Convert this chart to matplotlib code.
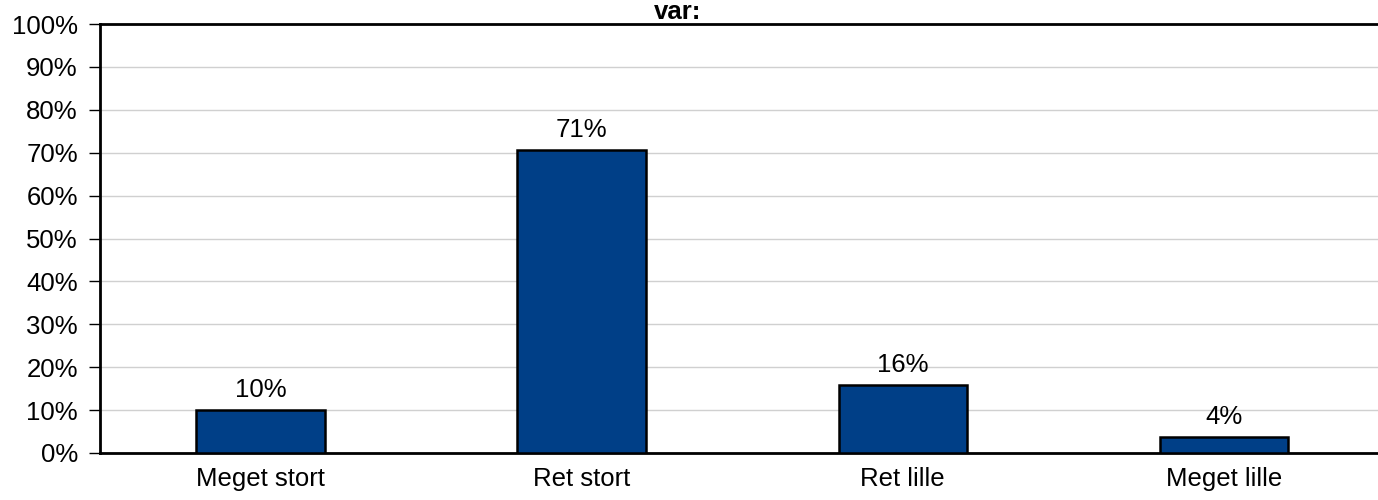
import matplotlib
matplotlib.use("Agg")
import matplotlib.pyplot as plt
from matplotlib.ticker import FuncFormatter

# Data
categories = ["Meget stort", "Ret stort", "Ret lille", "Meget lille"]
values = [10.0, 70.6, 15.8, 3.7]  # [%]
yticks = list(range(0, 101, 10))

bar_color = "#003F87"
fs = 18.5

plt.rcParams["font.family"] = ["Liberation Sans", "DejaVu Sans"]
plt.rcParams["font.size"] = fs

fig = plt.figure(figsize=(13.78, 5.0), dpi=100)
ax = fig.add_axes([0.0726, 0.094, 0.932, 0.858])

x = range(len(categories))
bars = ax.bar(x, values, width=0.4, color=bar_color, edgecolor="black", linewidth=1.8, zorder=3)

for bar, v in zip(bars, values):
    ax.text(bar.get_x() + bar.get_width() / 2, v + 2.0, f"{v:.0f}%",
            ha="center", va="bottom", fontsize=fs)

ax.set_xlim(-0.5, len(categories) - 0.5)
ax.set_ylim(0, 100)
ax.set_yticks(yticks)
ax.yaxis.set_major_formatter(FuncFormatter(lambda v, _: f"{v:.0f}%"))
ax.set_xticks(list(x))
ax.set_xticklabels(categories)
ax.tick_params(axis="x", length=0, pad=10, labelsize=fs)
ax.tick_params(axis="y", length=8, width=1, labelsize=fs, pad=8)

ax.grid(axis="y", color="#d0d0d0", linewidth=1, zorder=0)
for side in ["left", "top", "bottom"]:
    ax.spines[side].set_linewidth(2)
ax.spines["right"].set_visible(False)

# title: only its last line shows at the top edge
fig.text(678 / 1378, 0.962, "var:", ha="center", va="baseline",
         fontsize=fs, fontweight="bold")

fig.savefig("out.png", dpi=100)
